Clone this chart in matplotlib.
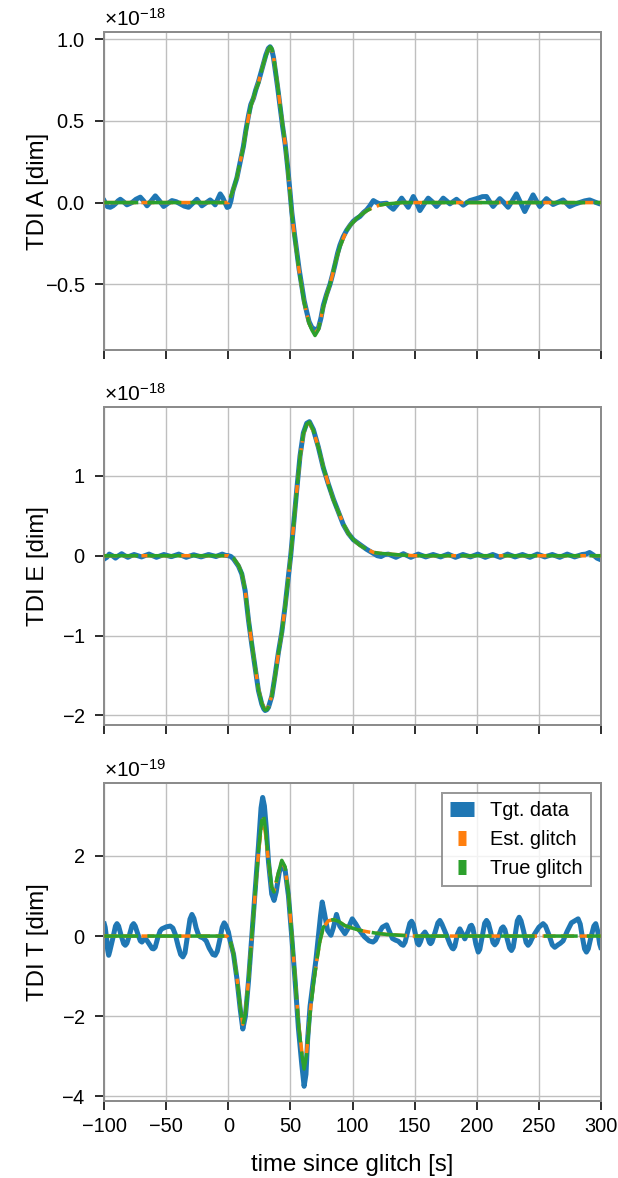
import numpy as np
import matplotlib
matplotlib.use('Agg')
import matplotlib.pyplot as plt
from matplotlib.lines import Line2D
from matplotlib.ticker import MultipleLocator, ScalarFormatter

plt.rcParams['font.family'] = ['Liberation Sans', 'DejaVu Sans']
plt.rcParams['mathtext.fontset'] = 'custom'
plt.rcParams['mathtext.rm'] = 'Liberation Sans'
plt.rcParams['mathtext.it'] = 'Liberation Sans:italic'

# --- data: (time [s], value in units of the offset) ---
scale_A = 1e-18
scale_E = 1e-18
scale_T = 1e-19

true_A = [(-100, 0), (-2, 0), (0, 0), (3.5, 0.07), (6.8, 0.155), (9.5, 0.25), (12.1, 0.34), (14, 0.43),
          (16.1, 0.52), (18, 0.59), (20.2, 0.645), (22, 0.69), (24.2, 0.73), (26, 0.79), (28.2, 0.85),
          (30.2, 0.90), (32.2, 0.94), (33.6, 0.955), (35.0, 0.945), (36.3, 0.90), (37.6, 0.83), (39.6, 0.72),
          (41.6, 0.60), (43.6, 0.48), (45.7, 0.36), (47.7, 0.21), (49.7, 0.053), (51.1, -0.07), (53, -0.19),
          (55.1, -0.31), (57, -0.42), (59.1, -0.52), (61, -0.61), (63.1, -0.68), (65, -0.74), (67.2, -0.78),
          (69.8, -0.815), (72.5, -0.78), (74.5, -0.71), (76.5, -0.64), (79, -0.57), (81.9, -0.50), (84, -0.44),
          (85.9, -0.375), (88, -0.32), (89.9, -0.27), (92.5, -0.22), (95.3, -0.17), (98, -0.14), (100.6, -0.12),
          (103, -0.10), (106, -0.08), (111.4, -0.05), (116.7, -0.03), (122.1, -0.015), (128, -0.008),
          (132.8, -0.005), (140, 0), (300, 0)]
est_A = [(-100, 0), (-2, 0), (0, 0), (3.5, 0.07), (6.8, 0.15), (9.5, 0.25), (12.1, 0.345), (14, 0.43),
         (16.1, 0.52), (18, 0.59), (20.2, 0.64), (22, 0.69), (24.2, 0.735), (26, 0.79), (28.2, 0.85),
         (30.2, 0.90), (32.2, 0.94), (33.6, 0.95), (35.0, 0.94), (36.3, 0.895), (37.6, 0.83), (39.6, 0.72),
         (41.6, 0.60), (43.6, 0.48), (45.7, 0.36), (47.7, 0.21), (49.7, 0.055), (51.1, -0.07), (53, -0.19),
         (55.1, -0.31), (57, -0.42), (59.1, -0.52), (61, -0.61), (63.1, -0.68), (65, -0.74), (67.2, -0.775),
         (69.8, -0.80), (72.5, -0.775), (74.5, -0.71), (76.5, -0.64), (79, -0.57), (81.9, -0.50), (84, -0.44),
         (85.9, -0.375), (88, -0.32), (89.9, -0.27), (92.5, -0.22), (95.3, -0.17), (98, -0.14), (100.6, -0.12),
         (103, -0.10), (106, -0.08), (111.4, -0.05), (116.7, -0.03), (122.1, -0.015), (128, -0.008),
         (132.8, -0.005), (140, 0), (300, 0)]
data_A = [(-100, 0.01), (-97.5, -0.025), (-95.2, -0.029), (-93, -0.02), (-91.1, -0.008), (-89, 0.01),
          (-87.1, 0.02), (-84.5, 0.005), (-81.8, -0.014), (-77.7, 0.0), (-74.5, 0.02), (-71.0, 0.033),
          (-68.3, 0.01), (-65.6, -0.02), (-62.2, 0.01), (-58.9, 0.041), (-55.5, 0.01), (-52.2, -0.024),
          (-48.8, -0.005), (-45.5, 0.012), (-42, 0.005), (-38.8, -0.008), (-35.5, -0.022), (-32.1, -0.029),
          (-28.8, -0.005), (-25.4, 0.02), (-23.4, 0.0), (-21.4, -0.02), (-18, -0.002), (-14.7, 0.016),
          (-12.7, 0.003), (-10.7, -0.014), (-8.6, 0.02), (-6.6, 0.053), (-4.6, 0.03), (-2.6, -0.004),
          (-1, -0.03), (0.5, -0.025), (2, 0.01), (3.5, 0.07), (6.8, 0.15), (9.5, 0.25), (12.1, 0.345),
          (14, 0.44), (16.1, 0.53), (18, 0.6), (20.2, 0.64), (22, 0.69), (24.2, 0.74), (26, 0.79), (28.2, 0.85),
          (30.2, 0.905), (32.2, 0.945), (33.6, 0.955), (35.0, 0.935), (36.3, 0.89), (37.6, 0.82), (39.6, 0.71),
          (41.6, 0.59), (43.6, 0.47), (45.7, 0.36), (47.7, 0.22), (49.7, 0.06), (51.1, -0.06), (53, -0.18),
          (55.1, -0.30), (57, -0.41), (59.1, -0.51), (61, -0.60), (63.1, -0.67), (65, -0.73), (67.2, -0.765),
          (69.8, -0.78), (72.5, -0.77), (74.5, -0.71), (76.5, -0.63), (79, -0.565), (81.9, -0.50), (84, -0.44),
          (85.9, -0.38), (88, -0.31), (89.9, -0.26), (92.5, -0.21), (95.3, -0.17), (98, -0.14), (100.6, -0.115),
          (103, -0.10), (106, -0.085), (109, -0.06), (111.4, -0.045), (114, -0.02), (116.8, 0.012),
          (119.5, 0.0), (122.1, -0.008), (127.5, -0.004), (130.2, -0.025), (132.9, -0.041), (136.2, -0.01),
          (139.6, 0.027), (142.2, 0.0), (144.9, -0.029), (149.0, 0.037), (151.6, 0.0), (154.3, -0.049),
          (157.6, -0.01), (161.0, 0.027), (164.3, 0.005), (167.7, -0.024), (170.4, 0.0), (173.1, 0.027),
          (175.8, 0.01), (178.5, -0.008), (181.1, 0.006), (183.8, 0.02), (186.5, 0.002), (189.2, -0.016),
          (191.9, -0.002), (194.6, 0.012), (201.3, 0.027), (204.6, 0.036), (208.0, 0.037), (210.6, 0.005),
          (213.3, -0.024), (216, 0.0), (218.7, 0.024), (222, 0.0), (225.4, -0.029), (228.7, 0.01),
          (232.1, 0.053), (235.4, 0.0), (238.8, -0.055), (242.1, -0.005), (245.5, 0.047), (248.2, 0.01),
          (250.9, -0.024), (253.6, 0.0), (256.3, 0.024), (259, 0.006), (261.6, -0.012), (265.6, 0.002),
          (269.7, 0.016), (272.3, -0.004), (275.0, -0.024), (279, -0.01), (283.1, 0.0), (287, 0.01),
          (291.1, 0.016), (295, 0.004), (299.2, -0.008), (300, -0.005)]

true_E = [(-100, 0), (-2, 0), (0, 0), (4.1, -0.03), (8.1, -0.12), (10.8, -0.22), (13.5, -0.43), (16.2, -0.80),
          (18.8, -1.10), (21.5, -1.39), (24.2, -1.68), (26.9, -1.85), (28.5, -1.91), (29.6, -1.935), (31, -1.93),
          (32.3, -1.90), (35.0, -1.76), (37.6, -1.51), (40.3, -1.22), (43.0, -0.97), (45.7, -0.64), (48.4, -0.26),
          (50.2, 0.0), (52.4, 0.36), (55.1, 0.82), (57.7, 1.24), (60.4, 1.53), (63.1, 1.65), (65.3, 1.675),
          (68.5, 1.57), (72.5, 1.36), (76.5, 1.11), (80.5, 0.90), (84.6, 0.70), (88.6, 0.55), (92.6, 0.40),
          (96.6, 0.28), (100.7, 0.20), (106.0, 0.13), (111.4, 0.083), (116.8, 0.042), (122.1, 0.03),
          (130.2, 0.02), (138.2, 0.01), (150, 0.0), (300, 0)]
est_E = [(-100, 0), (-2, 0), (0, 0), (4.1, -0.03), (8.1, -0.12), (10.8, -0.22), (13.5, -0.43), (16.2, -0.80),
         (18.8, -1.10), (21.5, -1.39), (24.2, -1.67), (26.9, -1.84), (28.5, -1.90), (29.6, -1.925), (31, -1.92),
         (32.3, -1.89), (35.0, -1.75), (37.6, -1.51), (40.3, -1.22), (43.0, -0.97), (45.7, -0.64), (48.4, -0.26),
         (50.2, 0.0), (52.4, 0.36), (55.1, 0.82), (57.7, 1.23), (60.4, 1.52), (63.1, 1.64), (65.3, 1.665),
         (68.5, 1.56), (72.5, 1.36), (76.5, 1.11), (80.5, 0.90), (84.6, 0.70), (88.6, 0.55), (92.6, 0.40),
         (96.6, 0.28), (100.7, 0.20), (106.0, 0.13), (111.4, 0.083), (116.8, 0.042), (122.1, 0.03),
         (130.2, 0.02), (138.2, 0.01), (150, 0.0), (300, 0)]
data_E = [(-100, -0.04), (-98, -0.02), (-96, 0.02), (-93.5, 0.0), (-91, -0.03), (-88.5, 0.0), (-86, 0.025),
          (-83.5, 0.0), (-81, -0.02), (-78.5, 0.0), (-76, 0.015), (-70, -0.015), (-64, 0.02), (-58, -0.02),
          (-52, 0.015), (-46, -0.012), (-40, 0.02), (-34, -0.02), (-28, 0.012), (-22, -0.015), (-16, 0.015),
          (-10, -0.01), (-5, 0.02), (-2.5, 0.005), (0, 0.0), (2, -0.01), (4.1, -0.04), (8.1, -0.13),
          (10.8, -0.23), (13.5, -0.44), (16.2, -0.81), (18.8, -1.11), (21.5, -1.40), (24.2, -1.69),
          (26.9, -1.86), (28.5, -1.92), (29.6, -1.94), (31, -1.93), (32.3, -1.90), (35.0, -1.76), (37.6, -1.50),
          (40.3, -1.21), (43.0, -0.96), (45.7, -0.63), (48.4, -0.25), (50.2, 0.0), (52.4, 0.37), (55.1, 0.83),
          (57.7, 1.25), (60.4, 1.54), (63.1, 1.66), (65.3, 1.68), (68.5, 1.58), (72.5, 1.36), (76.5, 1.10),
          (80.5, 0.90), (84.6, 0.71), (88.6, 0.55), (92.6, 0.39), (96.6, 0.28), (100.7, 0.20), (106.0, 0.14),
          (111.4, 0.08), (116.8, 0.03), (120, 0.0), (123, -0.01), (126, 0.015), (129, 0.02), (135, -0.02),
          (141, 0.025), (147, -0.02), (153, 0.02), (159, -0.015), (165, 0.015), (171, -0.015), (177, 0.02),
          (183, -0.02), (189, 0.015), (195, -0.015), (201, 0.02), (207, -0.02), (213, 0.015), (219, -0.02),
          (225, 0.02), (231, -0.015), (237, 0.015), (243, -0.02), (249, 0.02), (255, -0.015), (261, 0.015),
          (267, -0.02), (273, 0.02), (279, -0.015), (285, 0.015), (288, 0.02), (291, 0.04), (294, 0.01),
          (297, -0.03), (300, -0.05)]

true_T = [(-100, 0), (-2, 0), (-1.3, 0), (1.4, -0.11), (4.1, -0.44), (6.8, -1.03), (9.5, -1.78), (11.6, -2.23),
          (13.7, -1.94), (16.2, -1.11), (18.8, -0.025), (21.5, 1.06), (24.2, 2.14), (26.9, 2.89), (28.2, 3.06),
          (30.1, 2.6), (32.3, 1.89), (34.9, 1.22), (36.8, 1.10), (39.5, 1.48), (43.0, 1.89), (45.7, 1.73),
          (48.4, 1.06), (51.0, 0.06), (53.7, -1.03), (56.4, -2.19), (59.1, -2.94), (61.0, -3.32), (63.1, -2.94),
          (65.8, -1.94), (68.5, -1.19), (71.2, -0.61), (73.8, -0.12), (76.5, 0.22), (80.5, 0.38), (84.6, 0.41),
          (88.6, 0.37), (93.9, 0.26), (100.7, 0.19), (105, 0.15), (111.4, 0.11), (119.5, 0.07), (127.5, 0.04),
          (138.2, 0.02), (150, 0.0), (300, 0)]
est_T = [(-100, 0), (-2, 0), (-1.3, 0), (1.4, -0.11), (4.1, -0.44), (6.8, -1.02), (9.5, -1.76), (11.6, -2.2),
         (13.7, -1.92), (16.2, -1.10), (18.8, -0.03), (21.5, 1.04), (24.2, 2.08), (26.9, 2.8), (28.2, 2.92),
         (30.1, 2.5), (32.3, 1.85), (34.9, 1.22), (36.8, 1.12), (39.5, 1.48), (43.0, 1.86), (45.7, 1.70),
         (48.4, 1.05), (51.0, 0.06), (53.7, -1.02), (56.4, -2.15), (59.1, -2.88), (61.0, -3.24), (63.1, -2.88),
         (65.8, -1.92), (68.5, -1.18), (71.2, -0.61), (73.8, -0.12), (76.5, 0.22), (80.5, 0.38), (84.6, 0.41),
         (88.6, 0.37), (93.9, 0.26), (100.7, 0.19), (105, 0.15), (111.4, 0.11), (119.5, 0.07), (127.5, 0.04),
         (138.2, 0.02), (150, 0.0), (300, 0)]
data_T = [(-100, 0.30), (-99.3, 0.22), (-98.2, -0.05), (-97.3, -0.35), (-96.5, -0.48), (-95.6, -0.38),
          (-93.1, -0.05), (-91.0, 0.25), (-89.8, 0.31), (-88.5, 0.25), (-86.5, 0.02), (-84.4, -0.19),
          (-83.1, -0.23), (-81.8, -0.18), (-79.8, 0.02), (-77.7, 0.26), (-76.4, 0.31), (-75.1, 0.25),
          (-73, 0.05), (-71, -0.12), (-69.7, -0.15), (-68.5, -0.1), (-67.3, -0.07), (-65.9, -0.1), (-63, -0.24),
          (-61.5, -0.31), (-60.3, -0.32), (-59, -0.28), (-57, -0.05), (-55, 0.13), (-53.6, 0.18), (-50, 0.23),
          (-46.9, 0.25), (-44.8, 0.2), (-42.9, 0.05), (-40.5, -0.25), (-38.5, -0.46), (-36.7, -0.52),
          (-35, -0.42), (-33, 0.0), (-31, 0.42), (-29.4, 0.54), (-27.8, 0.44), (-26, 0.2), (-24, 0.02),
          (-22.7, -0.02), (-20.3, -0.05), (-17.9, -0.12), (-15.5, -0.3), (-12.5, -0.46), (-10.7, -0.48),
          (-9, -0.38), (-7, -0.1), (-5, 0.22), (-3.4, 0.33), (-1.9, 0.26), (0, 0.1), (1.4, -0.12),
          (4.1, -0.45), (6.8, -1.05), (9.5, -1.82), (11.6, -2.32), (13.7, -2.0), (16.2, -1.12), (18.8, -0.02),
          (21.5, 1.1), (24.2, 2.25), (26.3, 3.2), (27.6, 3.46), (29, 3.25), (30.5, 2.7), (32.3, 1.85),
          (34.9, 1.05), (36.8, 0.89), (38.5, 1.1), (41, 1.6), (43.8, 1.77), (45.7, 1.65), (48.4, 1.0),
          (51.0, 0.0), (53.7, -1.1), (56.4, -2.3), (59.1, -3.2), (61.0, -3.75), (62.5, -3.45), (63.8, -2.6),
          (65.8, -1.75), (68.5, -1.1), (70.5, -0.6), (72.5, 0.0), (74.2, 0.5), (75.6, 0.85), (77.5, 0.55),
          (79.9, 0.14), (82.6, 0.02), (84.5, 0.2), (87.1, 0.54), (89.7, 0.25), (93.9, 0.06), (96.6, 0.2),
          (99.8, 0.43), (102.7, 0.3), (105.7, 0.14), (109.7, -0.02), (113.4, -0.12), (116.5, -0.15),
          (118.5, -0.1), (120.9, 0.05), (124, 0.22), (127.5, 0.28), (130.2, 0.08), (132.2, -0.06),
          (134.5, -0.1), (137, -0.13), (139.5, -0.21), (140.9, -0.23), (142.4, -0.15), (144.2, 0.08),
          (146.2, 0.32), (147.6, 0.37), (149, 0.29), (151, 0.0), (152.3, -0.18), (153.5, -0.22),
          (154.8, -0.14), (156.5, 0.03), (158.4, 0.10), (160.3, 0.0), (162, -0.16), (162.9, -0.19),
          (164, -0.15), (166.6, 0.1), (168.8, 0.33), (170.4, 0.39), (172, 0.3), (175.8, 0.02), (178.5, -0.2),
          (180.2, -0.3), (181.2, -0.32), (182.4, -0.26), (184.6, 0.05), (186.5, 0.18), (188.2, 0.08),
          (190.5, -0.07), (193.2, 0.12), (194.8, 0.25), (195.9, 0.27), (197, 0.2), (199.4, -0.2),
          (201.3, -0.40), (202.6, -0.33), (204.6, 0.0), (206.5, 0.32), (208.0, 0.39), (209.5, 0.32),
          (211.3, 0.1), (213.2, -0.16), (214.7, -0.22), (216.2, -0.16), (218, 0.0), (220, 0.19), (221.4, 0.23),
          (222.8, 0.16), (224.7, -0.08), (226.6, -0.3), (228.1, -0.36), (229.5, -0.28), (231.2, 0.05),
          (232.8, 0.38), (234.3, 0.47), (235.8, 0.38), (237.9, 0.12), (239.9, -0.16), (241.5, -0.23),
          (243, -0.17), (244.8, -0.05), (246.9, 0.06), (250.2, 0.22), (253.6, 0.31), (255.5, 0.25),
          (258.3, 0.03), (261, -0.22), (263.0, -0.28), (265.5, -0.22), (267.5, -0.18), (269.7, -0.12),
          (273, 0.12), (276.4, 0.33), (279.1, 0.38), (281.8, 0.43), (283.5, 0.3), (285.1, 0.0), (287, -0.32),
          (288.5, -0.40), (290, -0.32), (292.2, -0.02), (294.5, 0.25), (296.0, 0.31), (297.6, 0.12),
          (299.2, -0.2), (300, -0.28)]

channels = ['TDI A [dim]', 'TDI E [dim]', 'TDI T [dim]']
legend_labels = ['Tgt. data', 'Est. glitch', 'True glitch']
xticks = [-100, -50, 0, 50, 100, 150, 200, 250, 300]

panels = [(data_A, est_A, true_A, scale_A, 0.5),
          (data_E, est_E, true_E, scale_E, 1.0),
          (data_T, est_T, true_T, scale_T, 2.0)]

fig = plt.figure(figsize=(618 / 144, 1178 / 144), dpi=144)
bottoms = [0.7029, 0.3846, 0.0656]
height = 0.2697
axes = []
for i, (data, est, true, sc, step) in enumerate(panels):
    ax = fig.add_axes([0.1688, bottoms[i], 0.8032, height], sharex=axes[0] if axes else None)
    axes.append(ax)
    td, vd = np.array(data).T
    te, ve = np.array(est).T
    tt, vt = np.array(true).T
    ax.plot(td, vd * sc, color='C0', lw=2.5, zorder=2)
    ax.plot(te, ve * sc, color='C1', lw=1.75, ls=(0, (3.7, 1.6)), zorder=3)
    ax.plot(tt, vt * sc, color='C2', lw=1.75, ls=(0, (9.7, 2.6)), zorder=4)

    ax.set_xlim(-100, 300)
    ax.set_xticks(xticks)
    ax.yaxis.set_major_locator(MultipleLocator(step * sc))
    fmt = ScalarFormatter(useMathText=True)
    ax.yaxis.set_major_formatter(fmt)
    ax.yaxis.get_offset_text().set_fontsize(10.5)
    ax.set_ylabel(channels[i], fontsize=12)
    ax.yaxis.set_label_coords(-0.112, 0.5)
    ax.grid(True, color='0.75', lw=0.7)
    ax.set_axisbelow(True)
    for s in ax.spines.values():
        s.set_color('0.55')
        s.set_linewidth(1.0)
    ax.tick_params(direction='out', length=4.5, width=0.8, color='k', labelsize=10,
                   top=False, right=False)
    ax.tick_params(axis='y', pad=5)
    if i < 2:
        ax.tick_params(axis='x', labelbottom=False)

axes[-1].set_xlabel('time since glitch [s]', fontsize=12, labelpad=9)

h_data = Line2D([], [], color='C0', lw=7.5, solid_capstyle='butt')
h_est = Line2D([], [], color='C1', lw=7.5, ls=(1.067, (0.533, 1.067)))
h_true = Line2D([], [], color='C2', lw=7.5, ls=(1.067, (0.533, 1.067)))
leg = axes[-1].legend([h_data, h_est, h_true], legend_labels, loc='upper right', handlelength=1.2,
                      fancybox=False, edgecolor='0.5', framealpha=0.8, fontsize=10)
leg.get_frame().set_linewidth(1.0)

fig.savefig('out.png', dpi=144)
